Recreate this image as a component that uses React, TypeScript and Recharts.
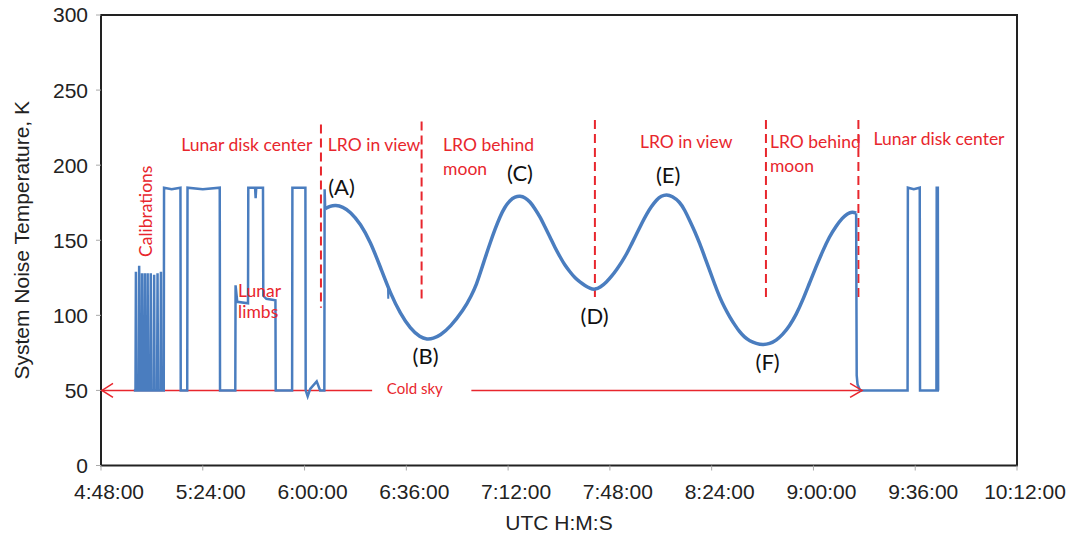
import React from 'react';
import { LineChart, Line, XAxis, YAxis, ReferenceLine, ReferenceDot, ReferenceArea } from 'recharts';

// time axis in minutes after 00:00 UTC
const xTicks = [288, 324, 360, 396, 432, 468, 504, 540, 576, 612];
const yTicks = [0, 50, 100, 150, 200, 250, 300];

// [minute, system noise temperature K] — calibrations, lunar disk center & limb scans
const scanStart: [number, number][] = [
  [299.6, 50], [300.2, 50], [300.35, 129], [300.5, 50],
  [301.35, 50], [301.5, 133], [301.65, 50],
  [302.35, 50], [302.5, 128], [302.65, 50],
  [303.35, 50], [303.5, 128], [303.65, 50],
  [304.35, 50], [304.5, 128], [304.65, 50],
  [305.45, 50], [305.6, 128], [305.75, 50],
  [306.65, 50], [306.8, 127], [306.95, 50],
  [307.85, 50], [308, 128], [308.15, 50],
  [309.05, 50], [309.2, 129], [309.35, 50],
  [310.2, 50], [310.3, 185], [313, 184], [316.1, 185], [316.2, 50],
  [318.5, 50], [318.6, 185], [324, 184], [330, 185], [330.1, 50],
  [335.5, 50], [335.6, 120], [336.2, 109], [340, 108], [340.1, 185], [342.5, 185], [342.7, 178], [342.9, 185],
  [345.3, 185], [345.4, 113], [346.5, 111], [349.7, 110], [349.8, 50],
  [355.6, 50], [355.7, 185], [360.3, 185], [360.4, 50], [361.1, 46], [362, 51], [364.3, 56], [365.5, 50],
  [367.0, 50], [367.1, 184], [367.3, 171],
];

// LRO tracking: in view / behind moon
const orbitCurve: [number, number][] = [
  [367.3, 171], [369, 172.8], [371, 173.5], [373.5, 172.3], [376.2, 169], [379.8, 161], [383.3, 148.9],
  [386.8, 132.2], [390.4, 114.4], [393.9, 101.1], [397.4, 91.1],
  [400.9, 85.3], [403.3, 84], [405.5, 84.5], [408, 86.7], [411.5, 92.2], [416.2, 103.5], [419, 113],
  [420.9, 121], [422.1, 128], [424, 139], [425.6, 148], [427.5, 158], [429.2, 166], [430.8, 172],
  [432.7, 176.8], [434.5, 179], [436.2, 179.5], [438, 178.5], [439.8, 175.6], [441.5, 171], [443.3, 165.6],
  [445, 159], [446.8, 152.2], [448.6, 145], [450.4, 138.9], [452, 133.5], [453.9, 128.9], [455.6, 125],
  [457.4, 122.2], [459.2, 119.8], [460.9, 118], [462.7, 117], [464.7, 118.8], [466.8, 122.2], [468.6, 126],
  [470.4, 130.5], [472.2, 135.5], [474, 141.1], [475.8, 148], [477.5, 154.4], [479.2, 161], [481, 167.5],
  [482.7, 172.5], [484.5, 177], [486.2, 179.5], [488, 180.5], [490, 179.5], [492.7, 175.6], [494.5, 170],
  [496.2, 163.3], [498, 156], [499.8, 147.8], [501.5, 139], [503.3, 130], [505, 121], [506.8, 112.2],
  [508.6, 105], [510.4, 98.9], [512.2, 93.5], [513.9, 88.9], [515.6, 85.5], [517.4, 83], [519.8, 81.2],
  [522.1, 80.3], [524.5, 81], [526.8, 83.3], [529, 87], [531.5, 92.8], [533.9, 100.5], [536.2, 110],
  [538.5, 121], [540.9, 132.2], [543.2, 142.5], [545.6, 152.2], [548, 159.5], [550.3, 165], [552, 167.8],
  [553.8, 169], [555.1, 168],
];

// short glitch on the descending branch
const glitch: [number, number][] = [[389.5, 119], [389.6, 111], [389.7, 118]];

// back to cold sky and final disk-center scans
const scanEnd: [number, number][] = [
  [555.1, 168], [555.3, 60], [555.6, 54], [556.5, 50], [573.3, 50], [573.4, 185], [575.5, 184], [577.6, 185],
  [577.7, 50], [583.5, 50], [583.6, 185], [584.0, 185], [584.1, 50], [584.4, 50],
];

// red dashed phase boundaries: minute, top K, bottom K
const boundaryTimes = [365.8, 401.4, 462.7, 523.2, 555.9];
const boundaryTops = [227, 229, 230, 230, 230];
const boundaryBottoms = [105, 108, 110, 109, 109];

// red annotations: minute, K (first baseline), lines, anchor
const noteTimes = [339.6, 384.6, 409, 495, 524.6, 584.4, 336.5];
const noteLevels = [209.4, 209.4, 209.4, 211.4, 211.4, 213.4, 112.4];
const noteLines = [
  ['Lunar disk center'],
  ['LRO in view'],
  ['LRO behind', 'moon'],
  ['LRO in view'],
  ['LRO behind', 'moon'],
  ['Lunar disk center'],
  ['Lunar', 'limbs'],
];
const noteAnchors = ['middle', 'middle', 'start', 'middle', 'start', 'middle', 'start'];

// black point labels
const pointNames = ['(A)', '(B)', '(C)', '(D)', '(E)', '(F)'];
const pointTimes = [373.1, 402.8, 436.2, 462.6, 488.6, 523.8];
const pointLevels = [186.1, 73.5, 194.8, 100.2, 194.1, 69];

// cold sky arrow
const coldSkyLevel = 50;
const coldSkyLeft = [288, 383.9];
const coldSkyRight = [419, 557.2];

const RED = '#e8262d';
const BLUE = '#4a7dbf';
const AXIS_FONT = '"Liberation Sans", Arial, Helvetica, sans-serif';
const NOTE_FONT = 'Lato, "Open Sans", sans-serif';

const toRows = (pairs: [number, number][]) => pairs.map(([t, k]) => ({ t, k }));

const fmt = (m: number) => `${Math.floor(m / 60)}:${String(m % 60).padStart(2, '0')}:00`;

const XTick = (props: any) => {
  const { x, y, payload } = props;
  return (
    <text x={x + 8} y={y} dy={16} textAnchor="middle" fontSize={21} fill="#222" fontFamily={AXIS_FONT}>
      {fmt(payload.value)}
    </text>
  );
};

const noteShape = (lines: string[], anchor: string, size: number, gap: number) => (p: any) => (
  <text x={p.cx} y={p.cy} textAnchor={anchor as any} fill={RED} fontSize={size} fontFamily={NOTE_FONT}>
    {lines.map((l, i) => (
      <tspan key={i} x={p.cx} dy={i === 0 ? 0 : gap}>
        {l}
      </tspan>
    ))}
  </text>
);

export default function App() {
  return (
    <div style={{ position: 'absolute', left: 0, top: 0, width: 1066, height: 540, background: '#fff' }}>
      <LineChart width={1066} height={540} margin={{ top: 15, right: 49, bottom: 14.5, left: 11 }}>
        <XAxis
          dataKey="t"
          type="number"
          domain={[288, 612]}
          ticks={xTicks}
          allowDataOverflow
          axisLine={false}
          tickLine={{ stroke: '#aaa' }}
          tickSize={5}
          tickMargin={12.5}
          height={60}
          tick={<XTick />}
          label={(p: any) => {
            const vb = p.viewBox;
            return (
              <text x={vb.x + vb.width / 2} y={vb.y + 64} textAnchor="middle" fontSize={21} fill="#222" fontFamily={AXIS_FONT}>
                UTC H:M:S
              </text>
            );
          }}
        />
        <YAxis
          type="number"
          domain={[0, 300]}
          ticks={yTicks}
          allowDataOverflow
          width={90}
          axisLine={false}
          tickLine={{ stroke: '#aaa' }}
          tickSize={5}
          tickMargin={8}
          tick={{ fontSize: 21, fill: '#222', fontFamily: AXIS_FONT }}
          label={(p: any) => {
            const vb = p.viewBox;
            const cx = vb.x + 18;
            const cy = vb.y + vb.height / 2;
            return (
              <text x={cx} y={cy} transform={`rotate(-90 ${cx} ${cy})`} textAnchor="middle" fontSize={21} fill="#222" fontFamily={AXIS_FONT}>
                System Noise Temperature, K
              </text>
            );
          }}
        />
        <ReferenceArea x1={288} x2={612} y1={0} y2={300} fill="none" stroke="#222" strokeWidth={2} ifOverflow="visible" />

        {boundaryTimes.map((t, i) => (
          <ReferenceLine
            key={'b' + i}
            segment={[{ x: t, y: boundaryTops[i] }, { x: t, y: boundaryBottoms[i] }]}
            stroke={RED}
            strokeWidth={2}
            strokeDasharray="9 5"
            ifOverflow="visible"
          />
        ))}

        <ReferenceLine segment={[{ x: coldSkyLeft[0], y: coldSkyLevel }, { x: coldSkyLeft[1], y: coldSkyLevel }]} stroke={RED} strokeWidth={1.5} ifOverflow="visible" />
        <ReferenceLine segment={[{ x: coldSkyRight[0], y: coldSkyLevel }, { x: coldSkyRight[1], y: coldSkyLevel }]} stroke={RED} strokeWidth={1.5} ifOverflow="visible" />

        <Line data={toRows(scanStart)} dataKey="k" type="linear" stroke={BLUE} strokeWidth={2.5} dot={false} isAnimationActive={false} />
        <Line data={toRows(orbitCurve)} dataKey="k" type="basis" stroke={BLUE} strokeWidth={3.5} dot={false} isAnimationActive={false} />
        <Line data={toRows(glitch)} dataKey="k" type="linear" stroke={BLUE} strokeWidth={2} dot={false} isAnimationActive={false} />
        <Line data={toRows(scanEnd)} dataKey="k" type="linear" stroke={BLUE} strokeWidth={2.5} dot={false} isAnimationActive={false} />

        <ReferenceDot
          x={coldSkyLeft[0]}
          y={coldSkyLevel}
          r={1}
          ifOverflow="visible"
          shape={(p: any) => (
            <path d={`M${p.cx + 12} ${p.cy - 7} L${p.cx + 1} ${p.cy} L${p.cx + 12} ${p.cy + 7}`} fill="none" stroke={RED} strokeWidth={1.5} />
          )}
        />
        <ReferenceDot
          x={coldSkyRight[1]}
          y={coldSkyLevel}
          r={1}
          ifOverflow="visible"
          shape={(p: any) => (
            <path d={`M${p.cx - 12} ${p.cy - 7} L${p.cx} ${p.cy} L${p.cx - 12} ${p.cy + 7}`} fill="none" stroke={RED} strokeWidth={1.5} />
          )}
        />
        <ReferenceDot x={399} y={47.6} r={1} ifOverflow="visible" shape={noteShape(['Cold sky'], 'middle', 15, 0)} />

        {noteTimes.map((t, i) => (
          <ReferenceDot
            key={'n' + i}
            x={t}
            y={noteLevels[i]}
            r={1}
            ifOverflow="visible"
            shape={noteShape(noteLines[i], noteAnchors[i], 17.5, i === 6 ? 21.5 : 23.5)}
          />
        ))}

        <ReferenceDot
          x={305.9}
          y={169.3}
          r={1}
          ifOverflow="visible"
          shape={(p: any) => (
            <text x={p.cx} y={p.cy} transform={`rotate(-90 ${p.cx} ${p.cy})`} textAnchor="middle" fill={RED} fontSize={17.5} fontFamily={NOTE_FONT}>
              Calibrations
            </text>
          )}
        />

        {pointNames.map((n, i) => (
          <ReferenceDot
            key={'p' + i}
            x={pointTimes[i]}
            y={pointLevels[i]}
            r={1}
            ifOverflow="visible"
            shape={(p: any) => (
              <text x={p.cx} y={p.cy} dominantBaseline="central" textAnchor="middle" fill="#111" fontSize={22} fontFamily={NOTE_FONT}>
                {n}
              </text>
            )}
          />
        ))}
      </LineChart>
    </div>
  );
}
